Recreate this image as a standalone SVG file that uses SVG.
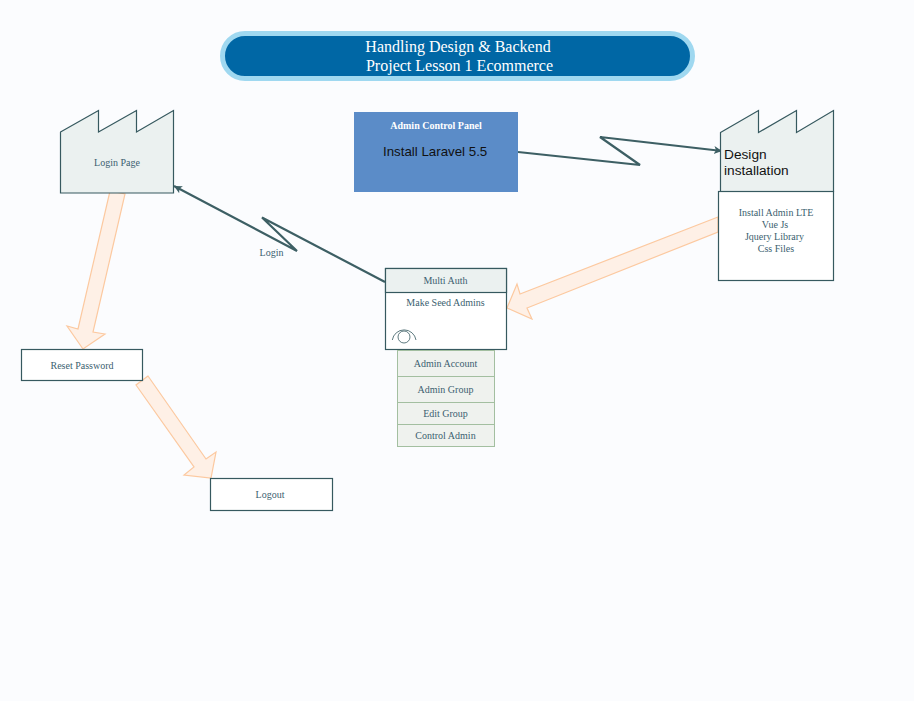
<svg xmlns="http://www.w3.org/2000/svg" width="914" height="701" viewBox="0 0 914 701">
<style>
text{font-family:"Liberation Serif","Times New Roman",serif;font-size:10px;fill:#3c5f70;text-anchor:middle}
.box{fill:#fff;stroke:#36595f;stroke-width:1.2}
.tint{fill:#ebf1f0;stroke:#36595f;stroke-width:1.2}
.row{fill:#eff2ee;stroke:#a3bfa0;stroke-width:1}
.block{fill:#fef0e6;stroke:#fcc9a0;stroke-width:1.200}
.link{fill:none;stroke:#3d5f64;stroke-width:2.200;stroke-linejoin:miter}
.sans{font-family:"Liberation Sans",Arial,sans-serif;fill:#111;text-anchor:start}
</style>
<defs>
<marker id="arrow" markerUnits="userSpaceOnUse" markerWidth="10" markerHeight="10" refX="8" refY="4" orient="auto">
<path d="M0 0L8 4L0 8L2 4Z" fill="#3d5f64"/>
</marker>
</defs>
<rect width="914" height="701" fill="#fbfcfe"/>
<g id="connectors">
<polyline class="link" points="518,152 640,165 600,137 722,151" marker-end="url(#arrow)"/>
<polyline class="link" points="385,282 262,217.500 297,251 174,186" marker-end="url(#arrow)"/>
<polygon class="block" points="110,191 125,194 93,332 105,334 83,349 67,326 78,329"/>
<polygon class="block" points="148,376 136,385 194,467 184,475 211,478 216,452 206,459"/>
<polygon class="block" points="718,217 520,294 517,284 507,308 532,319 527,308 718,232"/>
<text x="271.500" y="256">Login</text>
</g>
<g id="title">
<rect x="222.500" y="33.500" width="470" height="45" rx="22.500" fill="#0067a5" stroke="#9fd8f0" stroke-width="5"/>
<text x="458" y="51.500" style="font-size:16px;fill:#fff">Handling Design &amp; Backend</text>
<text x="459.500" y="71" style="font-size:16px;fill:#fff">Project Lesson 1 Ecommerce</text>
</g>
<g id="admin-panel">
<rect x="354" y="112" width="164" height="80" fill="#5b8cc8"/>
<text x="436" y="129" style="font-size:10px;font-weight:bold;fill:#fff">Admin Control Panel</text>
<text class="sans" x="383" y="156" style="font-size:13.300px">Install Laravel 5.5</text>
</g>
<g id="login-page">
<polygon class="tint" points="60.500,132 98.500,110.500 98.500,132 136.500,110.500 136.500,132 173.500,110.500 173.500,193 60.500,193"/>
<text x="117" y="166">Login Page</text>
</g>
<g id="design-installation">
<polygon class="tint" points="720.500,132.500 758.500,110.500 758.500,132.500 796.500,110.500 796.500,132.500 833.500,110.500 833.500,191.500 720.500,191.500"/>
<text class="sans" x="724" y="159" style="font-size:13.700px">Design</text>
<text class="sans" x="724" y="175" style="font-size:13.700px">installation</text>
<rect class="box" x="718.500" y="191.500" width="115" height="89"/>
<text x="776" y="216">Install Admin LTE</text>
<text x="775" y="228">Vue Js</text>
<text x="774.500" y="240">Jquery Library</text>
<text x="776" y="252">Css Files</text>
</g>
<g id="multi-auth">
<rect class="box" x="385.500" y="268.500" width="121" height="81"/>
<rect class="tint" x="385.500" y="268.500" width="121" height="24"/>
<text x="445.500" y="284">Multi Auth</text>
<text x="445.500" y="306">Make Seed Admins</text>
<circle cx="404" cy="337" r="6" fill="none" stroke="#36595f" stroke-width="0.800"/>
<path d="M392.300 340A12 12 0 0 1 416 340" fill="none" stroke="#36595f" stroke-width="0.800"/>
</g>
<g id="admin-account">
<rect class="row" x="397.500" y="350.500" width="97" height="26"/>
<text x="445.500" y="367">Admin Account</text>
</g>
<g id="admin-group">
<rect class="row" x="397.500" y="376.500" width="97" height="26"/>
<text x="445.500" y="393">Admin Group</text>
</g>
<g id="edit-group">
<rect class="row" x="397.500" y="402.500" width="97" height="22"/>
<text x="445.500" y="417">Edit Group</text>
</g>
<g id="control-admin">
<rect class="row" x="397.500" y="424.500" width="97" height="22"/>
<text x="445.500" y="439">Control Admin</text>
</g>
<g id="reset-password">
<rect class="box" x="21.500" y="349.500" width="121" height="31"/>
<text x="82" y="369">Reset Password</text>
</g>
<g id="logout">
<rect class="box" x="210.500" y="478.500" width="122" height="32"/>
<text x="270" y="498">Logout</text>
</g>
</svg>
